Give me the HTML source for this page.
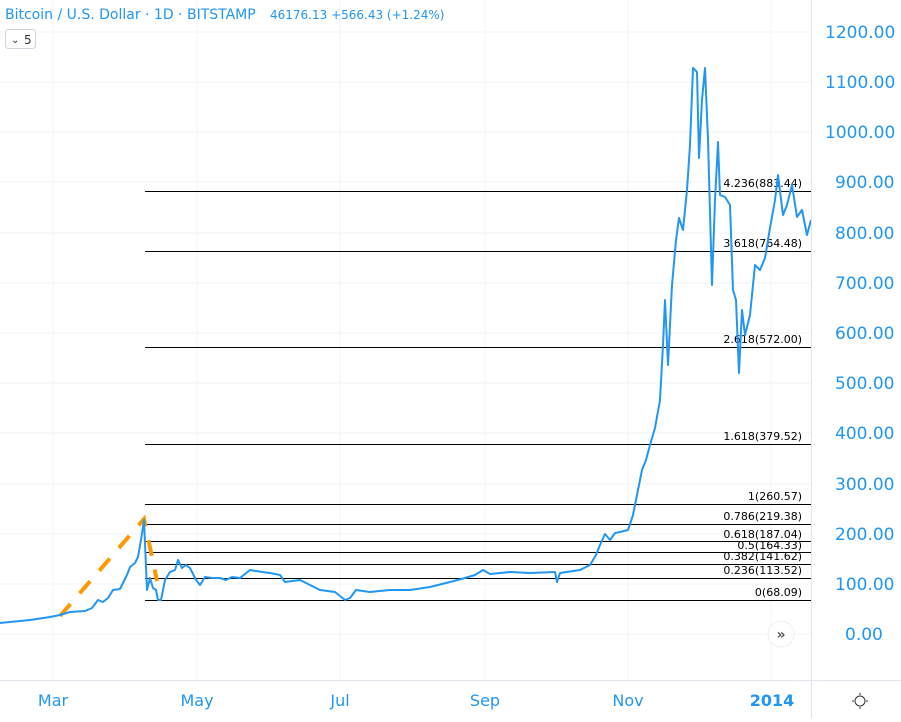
<!DOCTYPE html><html><head><style>
body{margin:0;background:#fff;width:901px;height:718px;overflow:hidden;font-family:"DejaVu Sans","Liberation Sans",sans-serif}
</style></head><body>
<svg width="901" height="718" xmlns="http://www.w3.org/2000/svg" font-family="DejaVu Sans, Liberation Sans, sans-serif">
<g stroke="#f0f3fa" stroke-width="1" shape-rendering="crispEdges">
<line x1="0" y1="32" x2="811" y2="32"/><line x1="0" y1="82" x2="811" y2="82"/><line x1="0" y1="132" x2="811" y2="132"/><line x1="0" y1="182" x2="811" y2="182"/><line x1="0" y1="233" x2="811" y2="233"/><line x1="0" y1="283" x2="811" y2="283"/><line x1="0" y1="333" x2="811" y2="333"/><line x1="0" y1="383" x2="811" y2="383"/><line x1="0" y1="433" x2="811" y2="433"/><line x1="0" y1="484" x2="811" y2="484"/><line x1="0" y1="534" x2="811" y2="534"/><line x1="0" y1="584" x2="811" y2="584"/><line x1="0" y1="634" x2="811" y2="634"/>
<line x1="53" y1="0" x2="53" y2="680"/><line x1="197" y1="0" x2="197" y2="680"/><line x1="340" y1="0" x2="340" y2="680"/><line x1="485" y1="0" x2="485" y2="680"/><line x1="628" y1="0" x2="628" y2="680"/><line x1="771" y1="0" x2="771" y2="680"/>
</g>
<g stroke="#000" stroke-width="1" shape-rendering="crispEdges">
<line x1="145" y1="191.5" x2="811" y2="191.5"/><line x1="145" y1="251.5" x2="811" y2="251.5"/><line x1="145" y1="347.5" x2="811" y2="347.5"/><line x1="145" y1="444.5" x2="811" y2="444.5"/><line x1="145" y1="504.5" x2="811" y2="504.5"/><line x1="145" y1="524.5" x2="811" y2="524.5"/><line x1="145" y1="541.5" x2="811" y2="541.5"/><line x1="145" y1="552.5" x2="811" y2="552.5"/><line x1="145" y1="564.5" x2="811" y2="564.5"/><line x1="145" y1="578.5" x2="811" y2="578.5"/><line x1="145" y1="600.5" x2="811" y2="600.5"/>
</g>
<g font-size="11" fill="#000" text-anchor="end">
<text x="802" y="187">4.236(883.44)</text><text x="802" y="247">3.618(764.48)</text><text x="802" y="343">2.618(572.00)</text><text x="802" y="440">1.618(379.52)</text><text x="802" y="500">1(260.57)</text><text x="802" y="520">0.786(219.38)</text><text x="802" y="538">0.618(187.04)</text><text x="802" y="549">0.5(164.33)</text><text x="802" y="560">0.382(141.62)</text><text x="802" y="574">0.236(113.52)</text><text x="802" y="596">0(68.09)</text>
</g>
<polyline fill="none" stroke="#ff9800" stroke-width="4" stroke-dasharray="16,14" points="60,616 144,519 157,581"/>
<polyline fill="none" stroke="#2196f3" stroke-width="2" stroke-linejoin="round" points="0,623 30,620 50,617 60,615 70,612 85,611 92,608 98,600 103,602 108,598 113,590 120,589 127,575 130,567 135,563 138,557 141,540 144,520 147,590 150,578 153,588 156,590 158,600 161,600 165,580 170,572 175,570 178,560 182,568 186,565 190,568 196,580 200,585 205,577 212,578 220,578 226,580 232,577 240,578 250,570 262,572 270,573 280,575 285,582 300,580 320,590 335,592 345,600 350,598 356,590 370,592 390,590 410,590 430,587 450,582 465,578 475,575 483,570 490,574 510,572 530,573 555,572 557,582 560,573 580,570 590,565 596,555 600,545 605,534 610,540 615,533 620,532 628,530 633,515 638,490 642,470 646,460 650,445 655,428 660,400 663,345 665,300 668,365 672,285 676,240 679,218 683,230 687,190 690,145 693,68 697,72 699,158 702,100 705,68 708,140 712,285 715,200 718,142 720,195 725,197 730,205 733,290 736,300 739,373 742,310 745,335 750,315 755,265 760,270 765,258 770,228 775,200 778,175 783,215 787,205 792,185 797,217 802,210 807,235 811,220"/>
<line x1="811.5" y1="0" x2="811.5" y2="718" stroke="#e0e3eb"/>
<line x1="0" y1="680.5" x2="901" y2="680.5" stroke="#e0e3eb"/>
<g font-size="17" fill="#2196f3">
<text x="825" y="38">1200.00</text><text x="825" y="88">1100.00</text><text x="825" y="138">1000.00</text><text x="835" y="188">900.00</text><text x="835" y="239">800.00</text><text x="835" y="289">700.00</text><text x="835" y="339">600.00</text><text x="835" y="389">500.00</text><text x="835" y="439">400.00</text><text x="835" y="490">300.00</text><text x="835" y="540">200.00</text><text x="835" y="590">100.00</text><text x="845" y="640">0.00</text>
</g>
<g font-size="16" fill="#2196f3" text-anchor="middle">
<text x="53" y="706">Mar</text><text x="197" y="706">May</text><text x="340" y="706">Jul</text><text x="485" y="706">Sep</text><text x="628" y="706">Nov</text><text x="772" y="706" font-weight="bold">2014</text>
</g>
<circle cx="781" cy="634" r="13" fill="#fff" stroke="#eee"/>
<text x="781" y="639" font-size="14" fill="#555" text-anchor="middle" font-weight="bold">»</text>
<circle cx="860" cy="701" r="5" fill="none" stroke="#333"/>
<g stroke="#333"><line x1="860" y1="693" x2="860" y2="695"/><line x1="860" y1="707" x2="860" y2="709"/><line x1="852" y1="701" x2="854" y2="701"/><line x1="866" y1="701" x2="868" y2="701"/></g>
<text x="5" y="19" font-size="14" fill="#2196f3">Bitcoin / U.S. Dollar · 1D · BITSTAMP</text>
<text x="270" y="19" font-size="12" fill="#2196f3">46176.13 +566.43 (+1.24%)</text>
<rect x="5.5" y="29.5" width="30" height="19" rx="3" fill="#fff" stroke="#d1d4dc"/>
<text x="11" y="43" font-size="10" fill="#333">⌄</text>
<text x="24" y="44" font-size="12" fill="#333">5</text>
</svg>
</body></html>
